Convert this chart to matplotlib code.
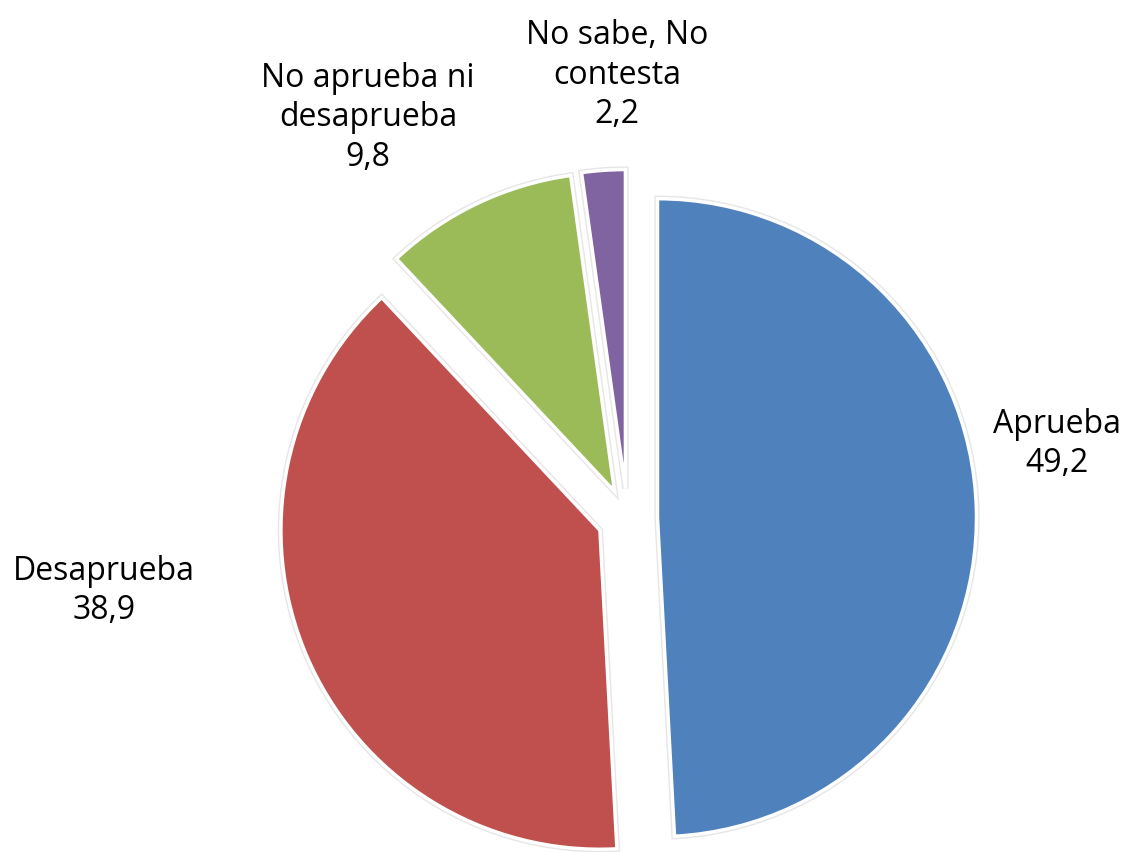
"""Exploded pie: aprobación (Aprueba / Desaprueba / ...)."""

import matplotlib
matplotlib.use("Agg")
import matplotlib.pyplot as plt
import matplotlib.patheffects as pe

categories = ["Aprueba", "Desaprueba", "No aprueba ni\ndesaprueba", "No sabe, No\ncontesta"]
values = [49.2, 38.9, 9.8, 2.2]
colors = ["#4F81BD", "#C0504D", "#9BBB59", "#8064A2"]

# label centres in pixel coords (x, y from top)
label_pos = [(1057, 444), (104, 591), (368, 118), (617, 75)]

W, H = 1126, 853
plt.rcParams["font.family"] = ["Open Sans", "DejaVu Sans"]

fig = plt.figure(figsize=(W / 100, H / 100), dpi=100)
ax = fig.add_axes([0, 0, 1, 1])

radius = 319
# explode is in data units here (axes are in pixels)
wedges, _ = ax.pie(
    values,
    colors=colors,
    startangle=90,
    counterclock=False,
    explode=[30] * len(values),
    radius=radius,
    center=(627.5, H - 519.5),
    wedgeprops=dict(edgecolor="white", linewidth=2.5),
    frame=True,
)
# faint grey halo around the white edge, like the original
for w in wedges:
    w.set_path_effects([pe.Stroke(linewidth=4.5, foreground="#e6e6e6"), pe.Normal()])

ax.set_xlim(0, W)
ax.set_ylim(0, H)
ax.set_aspect("equal")
ax.axis("off")

for cat, val, (x, y) in zip(categories, values, label_pos):
    txt = f"{cat}\n{val:.1f}".replace(".", ",")
    ax.text(x, H - y, txt, ha="center", va="center", fontsize=23,
            linespacing=1.25, color="black")

fig.savefig("out.png", dpi=100)
